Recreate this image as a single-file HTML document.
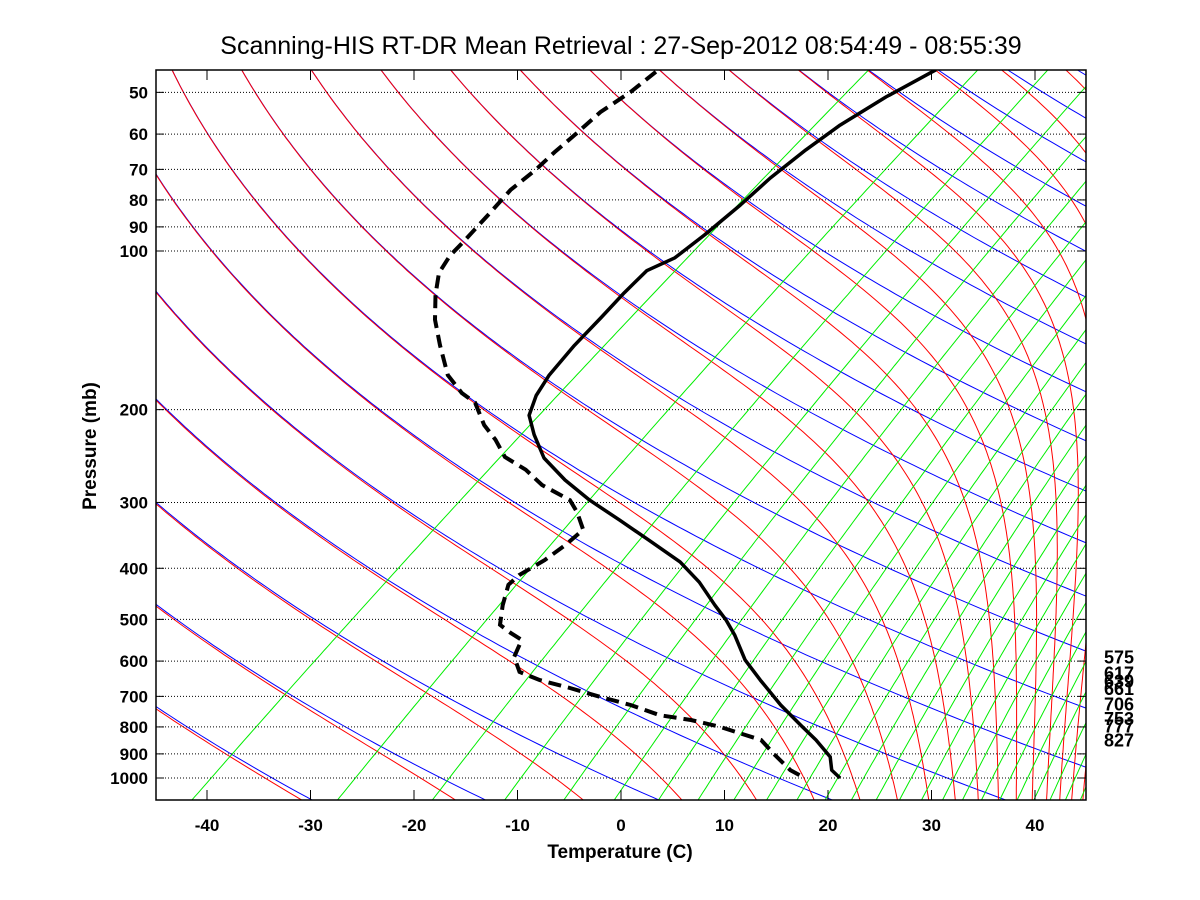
<!DOCTYPE html>
<html><head><meta charset="utf-8"><style>
html,body{margin:0;padding:0;background:#fff;}
svg{display:block;font-family:"Liberation Sans",Arial,sans-serif;}
</style></head><body>
<svg id="chart" width="1200" height="900" viewBox="0 0 1200 900" xmlns="http://www.w3.org/2000/svg">
<defs><clipPath id="pc"><rect x="156" y="70" width="930" height="730"/></clipPath></defs>
<rect x="0" y="0" width="1200" height="900" fill="#fff"/>
<text x="621" y="54" font-size="25" text-anchor="middle">Scanning-HIS RT-DR Mean Retrieval : 27-Sep-2012 08:54:49 - 08:55:39</text>
<g id="bg" clip-path="url(#pc)"></g>
<g id="grid"></g>
<g id="series" clip-path="url(#pc)"></g>
<rect x="156" y="70" width="930" height="730" fill="none" stroke="#000" stroke-width="1.5"/>
<g id="axes"></g>
<text x="620" y="858" font-size="19" font-weight="bold" text-anchor="middle">Temperature (C)</text>
<text transform="translate(96,446) rotate(-90)" font-size="19" font-weight="bold" text-anchor="middle">Pressure (mb)</text>
<g id="levels"></g>
</svg>
<script>
const pressureTicks=[50,60,70,80,90,100,200,300,400,500,600,700,800,900,1000];
const tempTicks=[-40,-30,-20,-10,0,10,20,30,40];
const tempP=[45.3,51,57.7,64.3,72.7,81.8,93.2,103,109,120,134,151,172,188,205,223,247,272,297,324,354,389,425,470,501,536,597,652,727,793,847,912,966,1000];
const tempC=[-61.3,-62.7,-63.6,-63.8,-63.7,-63.2,-62.9,-62.9,-64.0,-63.4,-62.5,-61.6,-60.3,-59.0,-57.2,-54.3,-50.4,-45.6,-40.7,-35.3,-29.9,-24.2,-19.8,-15.4,-12.5,-9.7,-5.6,-1.6,3.5,7.9,11.3,14.8,16.6,18.4];
const dewP=[45.7,49.9,54.5,60.2,64.9,70.2,76.6,84.7,95.3,102,110,121,135,151,172,186,194,214,228,246,260,278,297,313,338,361,386,412,430,470,512,531,547,589,629,652,675,702,727,760,776,800,847,904,966,1000];
const dewC=[-88.1,-88.0,-88.4,-88.0,-87.8,-87.4,-87.3,-86.4,-85.4,-84.9,-83.8,-81.4,-78.3,-74.6,-70.1,-66.5,-64.0,-60.3,-57.4,-54.3,-50.7,-47.2,-42.6,-40.4,-37.6,-37.4,-37.5,-38.1,-37.9,-35.9,-33.7,-31.6,-29.7,-28.3,-25.9,-22.9,-19.0,-14.9,-11.0,-6.9,-3.3,0.4,6.0,9.2,12.6,15.0];
const levelLabels=[575,617,639,661,706,753,777,827];

const NS='http://www.w3.org/2000/svg';
const P_TOP=45.3,P_BOT=1100;
function yOf(p){return 251+527*Math.log10(p/100);}
function xOf(T,p){return 621+10.35*T+1.3*(800-yOf(p));}
function mk(tag,attrs,parent){const e=document.createElementNS(NS,tag);for(const k in attrs)e.setAttribute(k,attrs[k]);parent.appendChild(e);return e;}
function pathD(pts){return pts.map((q,i)=>(i?'L':'M')+q[0].toFixed(1)+','+q[1].toFixed(1)).join('');}
const bg=document.getElementById('bg'),grid=document.getElementById('grid'),series=document.getElementById('series'),axes=document.getElementById('axes'),levels=document.getElementById('levels');
function logSteps(n){const a=[];for(let i=0;i<=n;i++)a.push(Math.exp(Math.log(P_TOP-5)+(Math.log(P_BOT+10)-Math.log(P_TOP-5))*i/n));return a;}
const ps=logSteps(160);
const thetas=[];for(let n=-4;n<=22;n++)thetas.push(236.7+16.3*n);
thetas.forEach(th=>{
  const pts=ps.map(p=>[xOf(th*Math.pow(p/1000,0.286)-273.15,p),yOf(p)]);
  const e=mk('path',{d:pathD(pts),fill:'none',stroke:'#0000ff','stroke-width':1},bg);
  
  
});
function es(Tc){return 6.112*Math.exp(17.67*Tc/(Tc+243.5));}
function dTdlnp(T,p){const e=es(T-273.15);const rs=0.622*e/Math.max(p-e,1);const Rd=287,Lv=2.5e6,cp=1005;return (Rd*T+Lv*rs)/(cp+Lv*Lv*rs*0.622/(Rd*T*T));}
thetas.forEach(th=>{
  let p=ps[0],T=th*Math.pow(p/1000,0.286);const pts=[[xOf(T-273.15,p),yOf(p)]];
  for(let i=1;i<ps.length;i++){const p2=ps[i];const h=Math.log(p2/p);const k1=dTdlnp(T,p);const k2=dTdlnp(T+h*k1/2,p*Math.exp(h/2));const k3=dTdlnp(T+h*k2/2,p*Math.exp(h/2));const k4=dTdlnp(T+h*k3,p2);T+=h*(k1+2*k2+2*k3+k4)/6;p=p2;pts.push([xOf(T-273.15,p),yOf(p)]);}
  const e=mk('path',{d:pathD(pts),fill:'none',stroke:'#ff0000','stroke-width':1},bg);
  
  
});
for(let n=1;n<=27;n++){const w=0.092*n*n/1000;
  const pts=ps.map(p=>{const e=w*p/(0.622+w);const L=Math.log(e/6.112);const Tc=243.5*L/(17.67-L);return [xOf(Tc,p),yOf(p)];});
  const e=mk('path',{d:pathD(pts),fill:'none',stroke:'#00ee00','stroke-width':1},bg);
  
  
}
pressureTicks.forEach(p=>{const y=yOf(p);
  const g=mk('line',{x1:156,x2:1086,y1:y,y2:y,stroke:'#000','stroke-width':1,'stroke-dasharray':'1,2'},grid);
  
  
  mk('line',{x1:156,x2:164,y1:y,y2:y,stroke:'#000','stroke-width':1},axes);
  mk('line',{x1:1078,x2:1086,y1:y,y2:y,stroke:'#000','stroke-width':1},axes);
  const t=mk('text',{x:148,y:y+6,'font-size':17,'font-weight':'bold','text-anchor':'end'},axes);t.textContent=p;
  
  
});
tempTicks.forEach(T=>{const x=621+10.35*T;
  mk('line',{x1:x,x2:x,y1:800,y2:790,stroke:'#000','stroke-width':1},axes);
  mk('line',{x1:x,x2:x,y1:70,y2:80,stroke:'#000','stroke-width':1},axes);
  const t=mk('text',{x:x,y:831,'font-size':17,'font-weight':'bold','text-anchor':'middle'},axes);t.textContent=T;
  
  
});
const tp=mk('path',{d:pathD(tempP.map((p,i)=>[xOf(tempC[i],p),yOf(p)])),fill:'none',stroke:'#000','stroke-width':3.5,'stroke-linejoin':'round'},series);


const dp=mk('path',{d:pathD(dewP.map((p,i)=>[xOf(dewC[i],p),yOf(p)])),fill:'none',stroke:'#000','stroke-width':4,'stroke-dasharray':'13,7'},series);


levelLabels.forEach(p=>{const t=mk('text',{x:1104,y:yOf(p)+12,'font-size':18,'font-weight':'bold'},levels);t.textContent=p;
  
  
});
</script>
</body></html>
